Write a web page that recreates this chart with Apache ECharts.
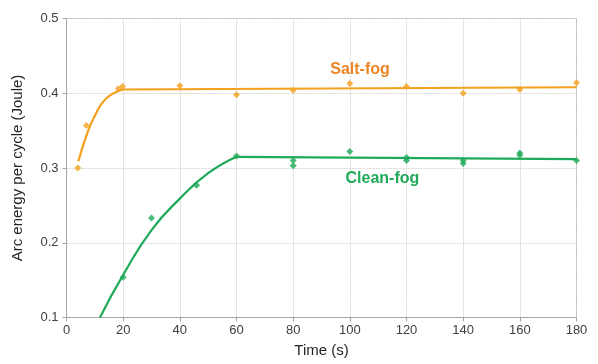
<!DOCTYPE html>
<html>
<head>
<meta charset="utf-8">
<script src="https://cdn.jsdelivr.net/npm/echarts@6/dist/echarts.min.js"></script>
<style>
  html, body { margin: 0; padding: 0; background: #fff; }
  #chart { width: 598px; height: 364px; }
</style>
</head>
<body>
<div id="chart"></div>
<script>
// Measured arc energy per cycle (time in s, energy in J)
const saltFogPoints = [
  [4, 0.300], [7, 0.357], [18.3, 0.406], [19.8, 0.409], [40, 0.410],
  [60, 0.398], [80, 0.404], [100, 0.413], [120, 0.409], [140, 0.400],
  [160, 0.405], [180, 0.414]
];
const cleanFogPoints = [
  [20, 0.154], [30, 0.233], [45.9, 0.277], [60, 0.316],
  [80, 0.310], [80, 0.303], [100, 0.322], [120, 0.314], [120, 0.310],
  [140, 0.310], [140, 0.306], [160, 0.320], [160, 0.317], [180, 0.310]
];
// Fitted trend curves
const saltFogCurve = [
  [4.2, 0.309], [7, 0.343], [10, 0.370], [14, 0.393], [20, 0.405]
];
const saltFogPlateau = [[20, 0.405], [180, 0.408]];
const cleanFogCurve = [
  [11.8, 0.100], [20, 0.157], [30, 0.217], [40, 0.259], [50, 0.293], [60, 0.315]
];
const cleanFogPlateau = [[60, 0.315], [180, 0.312]];

const xTicks = { min: 0, max: 180, interval: 20 };
const yTicks = { min: 0.1, max: 0.5, interval: 0.1 };

const ORANGE = '#F5A01E';
const ORANGE_TEXT = '#EB8526';
const GREEN = '#1FAA59';

const chart = echarts.init(document.getElementById('chart'));
const font = '"Liberation Sans", Arial, sans-serif';

chart.setOption({
  animation: false,
  textStyle: { fontFamily: font },
  grid: { left: 66.5, right: 21.5, top: 18.5, bottom: 46.5, show: true, borderColor: '#a6a6a6', borderWidth: 1 },
  xAxis: {
    type: 'value', min: xTicks.min, max: xTicks.max, interval: xTicks.interval,
    name: 'Time (s)', nameLocation: 'middle', nameGap: 26,
    nameTextStyle: { color: '#262626', fontSize: 15, fontFamily: font },
    axisLine: { lineStyle: { color: '#a6a6a6' } },
    axisTick: { show: true, length: 4, lineStyle: { color: '#a6a6a6' } },
    axisLabel: { color: '#404040', fontSize: 13, margin: 6, fontFamily: font },
    splitLine: { lineStyle: { color: '#d9d9d9', type: [2, 1] } }
  },
  yAxis: {
    type: 'value', min: yTicks.min, max: yTicks.max, interval: yTicks.interval,
    name: 'Arc energy per cycle (Joule)', nameLocation: 'middle', nameGap: 41,
    nameTextStyle: { color: '#262626', fontSize: 15, fontFamily: font },
    axisLine: { show: true, lineStyle: { color: '#a6a6a6' } },
    axisTick: { show: true, length: 4, lineStyle: { color: '#a6a6a6' } },
    axisLabel: { color: '#404040', fontSize: 13, margin: 8, fontFamily: font,
      formatter: v => v.toFixed(1) },
    splitLine: { lineStyle: { color: '#d9d9d9', type: [2, 1] } }
  },
  series: [
    { name: 'Salt-fog fit', type: 'line', data: saltFogCurve, smooth: 0.5,
      showSymbol: false, lineStyle: { color: ORANGE, width: 2.2 }, z: 2 },
    { name: 'Salt-fog plateau', type: 'line', data: saltFogPlateau,
      showSymbol: false, lineStyle: { color: ORANGE, width: 2.2 }, z: 2 },
    { name: 'Clean-fog fit', type: 'line', data: cleanFogCurve, smooth: 0.5,
      showSymbol: false, lineStyle: { color: GREEN, width: 2.2 }, z: 2 },
    { name: 'Clean-fog plateau', type: 'line', data: cleanFogPlateau,
      showSymbol: false, lineStyle: { color: GREEN, width: 2.2 }, z: 2 },
    { name: 'Salt-fog', type: 'scatter', data: saltFogPoints, symbol: 'diamond', symbolSize: 7,
      itemStyle: { color: ORANGE }, z: 3 },
    { name: 'Clean-fog', type: 'scatter', data: cleanFogPoints, symbol: 'diamond', symbolSize: 7,
      itemStyle: { color: GREEN }, z: 3 }
  ]
});

// Series name labels placed in data space
const saltLabelPos = chart.convertToPixel({ gridIndex: 0 }, [103.6, 0.431]);
const cleanLabelPos = chart.convertToPixel({ gridIndex: 0 }, [111.5, 0.286]);
chart.setOption({
  graphic: [
    { type: 'text', x: saltLabelPos[0], y: saltLabelPos[1],
      style: { text: 'Salt-fog', fill: ORANGE_TEXT, font: 'bold 16px ' + font, align: 'center', verticalAlign: 'middle' } },
    { type: 'text', x: cleanLabelPos[0], y: cleanLabelPos[1],
      style: { text: 'Clean-fog', fill: GREEN, font: 'bold 16px ' + font, align: 'center', verticalAlign: 'middle' } }
  ]
});
</script>
</body>
</html>
